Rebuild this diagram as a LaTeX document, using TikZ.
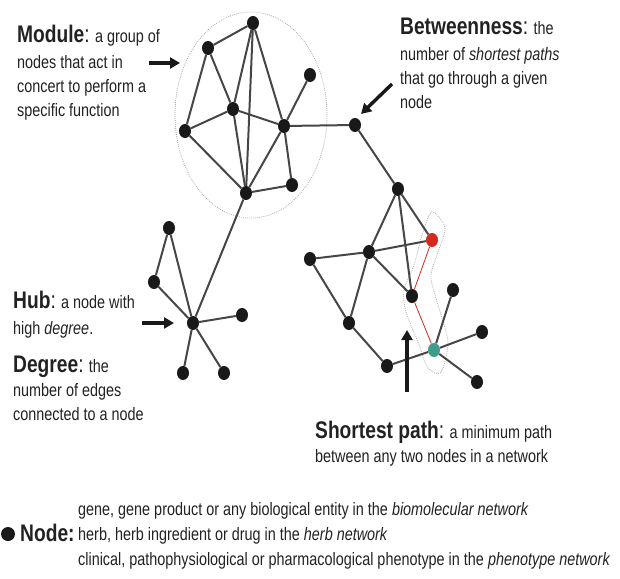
\documentclass[tikz,border=0pt]{standalone}
\usepackage{fontspec}
\setmainfont{Liberation Sans}[FakeStretch=0.8]
\usetikzlibrary{arrows.meta, positioning, shapes.geometric}

\definecolor{edgegray}{HTML}{464646}
\definecolor{txtgray}{HTML}{222222}
\definecolor{pathred}{HTML}{D22A1E}
\definecolor{pathteal}{HTML}{3E9C8C}

\newcommand{\defsize}{\fontsize{18}{24}\selectfont}
\newcommand{\termsize}{\fontsize{24}{24}\selectfont}
\newcommand{\term}[1]{{\termsize\textbf{#1}:}}

\begin{document}
\begin{tikzpicture}[x=1pt, y=-1pt]

	% Define styles
	\tikzstyle{vertex} = [ellipse, fill=black!90, inner sep=0pt,
	minimum width=12pt, minimum height=14pt]
	\tikzstyle{link} = [draw, line width=2pt, color=edgegray]
	\tikzstyle{pointer} = [draw, line width=3.4pt, color=black!90,
	-{Triangle[length=10pt, width=11pt]}]
	\tikzstyle{fence} = [draw=gray!70, line width=0.8pt, dash pattern=on 0.8pt off 1.2pt]
	\tikzstyle{note} = [anchor=base west, align=left, inner sep=0pt,
	text=txtgray, font=\defsize]

	\useasboundingbox (0,0) rectangle (620,578);

	% Module boundary and shortest path boundary
	\draw[fence] (251,115) ellipse [x radius=76pt, y radius=103pt];
	\draw[fence] plot[smooth cycle] coordinates {(432,212) (445,228) (437,255)
		(431,278) (441,315) (448,343) (441,372) (428,368) (418,342) (406,312)
		(404,290) (414,265) (423,232)};

	% Nodes: module
	\node[vertex] (m1) at (253,23) {};
	\node[vertex] (m2) at (208,48) {};
	\node[vertex] (m3) at (310,75) {};
	\node[vertex] (m4) at (233,109) {};
	\node[vertex] (m5) at (185,131) {};
	\node[vertex] (m6) at (284,126) {};
	\node[vertex] (m7) at (246,193) {};
	\node[vertex] (m8) at (292,185) {};
	\node[vertex] (btw) at (355,125) {};

	% Nodes: hub
	\node[vertex] (h1) at (169,228) {};
	\node[vertex] (h2) at (154,282) {};
	\node[vertex] (hub) at (193,323) {};
	\node[vertex] (h3) at (242,315) {};
	\node[vertex] (h4) at (183,373) {};
	\node[vertex] (h5) at (224,373) {};

	% Nodes: shortest path part
	\node[vertex] (c1) at (398,189) {};
	\node[vertex, fill=pathred] (src) at (432,240) {};
	\node[vertex] (c3) at (369,252) {};
	\node[vertex] (c4) at (310,259) {};
	\node[vertex] (c5) at (412,296) {};
	\node[vertex] (c6) at (453,290) {};
	\node[vertex] (c7) at (349,323) {};
	\node[vertex, fill=pathteal] (dst) at (434,350) {};
	\node[vertex] (c8) at (482,332) {};
	\node[vertex] (c9) at (387,366) {};
	\node[vertex] (c10) at (477,382) {};

	% Paths
	\foreach \a/\b in {m1/m2, m1/m4, m1/m7, m1/m6, m2/m5, m2/m4, m4/m5, m4/m6,
		m4/m7, m5/m7, m6/m3, m6/m7, m6/m8, m7/m8, m6/btw, m7/hub,
		h1/h2, h1/hub, h2/hub, hub/h3, hub/h4, hub/h5,
		btw/c1, c1/c3, c1/c5, c1/src, c3/src, c4/c3, c3/c5, c3/c7, c4/c7,
		c7/c9, c9/dst, dst/c6, dst/c8, dst/c10}
		\path[link] (\a) -- (\b);
	\path[draw=pathred, line width=0.8pt] (src) -- (c5) -- (dst);

	% Arrows
	\coordinate (modtail) at (149,63);
	\coordinate (modtip) at (180,63);
	\coordinate (btwtail) at (392,84);
	\coordinate (btwtip) at (361,114);
	\coordinate (hubtail) at (142,323);
	\coordinate (hubtip) at (174,323);
	\coordinate (sptail) at (407,392);
	\coordinate (sptip) at (407,330);
	\path[pointer] (modtail) -- (modtip);
	\path[pointer] (btwtail) -- (btwtip);
	\path[pointer] (hubtail) -- (hubtip);
	\path[pointer] (sptail) -- (sptip);

	% Labels (anchored at the baseline of their last line)
	\node[note] (module) at (17,116) {\term{Module} a group of\\[2pt]nodes that act in\\
		concert to perform a\\specific function};
	\node[note] (between) at (400,108) {\term{Betweenness} the\\[2pt]
		number of \textit{shortest paths}\\that go through a given\\node};
	\node[note] (hubtxt) at (13,334) {\term{Hub} a node with\\[2pt]high \textit{degree}.};
	\node[note] (degtxt) at (13,420) {\term{Degree} the\\number of edges\\
		connected to a node};
	\node[note] (sptxt) at (315,462) {\term{Shortest path} a minimum path\\
		between any two nodes in a network};

	% Legend
	\node[circle, fill=black!90, minimum size=14pt, inner sep=0pt] (bullet) at (8,534) {};
	\node[note, font=\termsize\bfseries] (nodeterm) at (20,541) {Node:};
	\node[note] (nodedef) at (78,565) {gene, gene product or any biological entity
		in the \textit{biomolecular network}\\[1pt]herb, herb ingredient or drug in the
		\textit{herb network}\\[1pt]clinical, pathophysiological or pharmacological
		phenotype in the \textit{phenotype network}};
\end{tikzpicture}
\end{document}
